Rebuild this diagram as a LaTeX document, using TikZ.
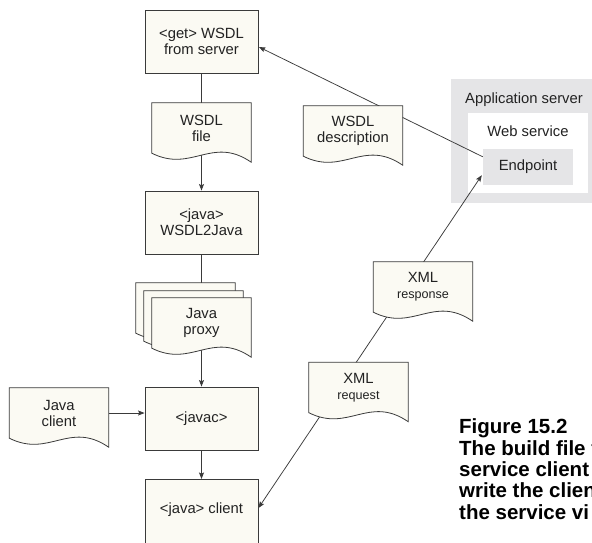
\documentclass[tikz,border=0pt]{standalone}
\usepackage{fontspec}
\setmainfont{Liberation Sans}
\usetikzlibrary{calc,arrows.meta}
\pgfdeclarelayer{bg}
\pgfdeclarelayer{lines}
\pgfdeclarelayer{docs}
\pgfsetlayers{bg,lines,docs,main}
\definecolor{cream}{HTML}{FBFAF3}
\definecolor{edge}{HTML}{3A3A3A}
\definecolor{srvgray}{HTML}{E5E5E7}
\definecolor{ink}{HTML}{222222}
\tikzset{
  lbl/.style={font=\fontsize{14.8}{16}\selectfont, text=ink},
  stepbox/.style={lbl, draw=edge, line width=0.9pt, fill=cream, minimum width=113pt, minimum height=63pt, inner sep=0pt, align=center},
  docnode/.style={lbl, minimum width=99pt, minimum height=50pt, inner sep=0pt, align=center},
  docline/.style={draw=edge, line width=0.8pt, fill=cream},
  conn/.style={draw=edge, line width=0.75pt},
  tip/.tip={Stealth[length=6.5pt,width=5pt,inset=1.2pt]},
  arr/.style={conn, -tip},
}
\newcommand\docshape[2][0,0]{%
  \draw[docline] ($(#2.north west)+(#1)$) -- ($(#2.north east)+(#1)$) -- ($(#2.south east)+(#1)+(0,9)$)
    .. controls ($(#2.south west)+(#1)+(60,-18)$) and ($(#2.south west)+(#1)+(40,20)$) .. ($(#2.south west)+(#1)$) -- cycle;}
\begin{document}
\begin{tikzpicture}[x=1pt,y=-1pt]
\clip (0,0) rectangle (592,542);
\useasboundingbox (0,0) rectangle (592,542);

% application server
\begin{pgfonlayer}{bg}
  \node[fill=srvgray, minimum width=149pt, minimum height=124pt, inner sep=0pt, anchor=north west] (appsrv) at (451,79) {};
  \node[lbl, anchor=base west, inner sep=0pt] (applbl) at (465,103) {Application server};
  \node[fill=white, minimum width=120pt, minimum height=80pt, inner sep=0pt, anchor=north west] (websvc) at (468,113) {};
  \node[lbl] (wslbl) at (528,131) {Web service};
  \node[lbl, fill=srvgray, minimum width=90pt, minimum height=36pt, inner sep=0pt] (endpoint) at (528,167) {Endpoint};
\end{pgfonlayer}

% process boxes
\node[stepbox] (get) at (201.5,41.5) {<get> WSDL\\from server};
\node[stepbox] (w2j) at (201.5,222.5) {<java>\\WSDL2Java};
\node[stepbox] (javac) at (201.5,418.5) {<javac>};
\node[stepbox, minimum height=70pt, text height=11pt, text depth=13pt, anchor=north] (jcl) at (201.5,479) {<java> client};

% documents
\node[docnode] (wfile) at (201.5,128) {WSDL\\file};
\node[docnode] (wdesc) at (353,131) {WSDL\\description};
\node[docnode] (resp) at (423,287) {XML\\{\fontsize{12.6}{16}\selectfont response}};
\node[docnode] (req) at (358.5,387.5) {XML\\{\fontsize{12.6}{16}\selectfont request}};
\node[docnode] (proxy) at (201.5,323) {Java\\proxy};
\node[docnode] (jclient) at (59,413) {Java\\client};

\begin{pgfonlayer}{docs}
  \docshape{wfile}
  \docshape{wdesc}
  \docshape{resp}
  \docshape{req}
  \docshape[-16,-15]{proxy}
  \docshape[-8,-7]{proxy}
  \docshape{proxy}
  \docshape{jclient}
\end{pgfonlayer}

% connectors
\coordinate (cA) at ($(jcl.north east)+(0,29)$);
\coordinate (cB) at ($(endpoint.south west)+(-1,-10)$);
\coordinate (cC) at ($(endpoint.north west)+(0,8)$);
\coordinate (cD) at ($(get.east)+(0.5,5.5)$);
\begin{pgfonlayer}{lines}
  \draw[conn] (get) -- (wfile);
  \draw[arr] (wfile) -- (w2j);
  \draw[conn] (w2j) -- (proxy);
  \draw[arr] (proxy) -- (javac);
  \draw[arr] (jclient.east) -- (jclient.east -| javac.west);
  \draw[arr] (javac) -- (jcl);
  \draw[conn, tip-tip] (cA) -- (cB);
  \draw[arr] (cC) -- (cD);
\end{pgfonlayer}

% caption
\node[anchor=north west, align=left, inner sep=0pt, text=black,
      font=\fontsize{20.5}{21.3}\selectfont\bfseries] (cap) at (459,418.8)
  {Figure 15.2\\The build file t\\service client\\write the clien\\the service vi};
\end{tikzpicture}
\end{document}
